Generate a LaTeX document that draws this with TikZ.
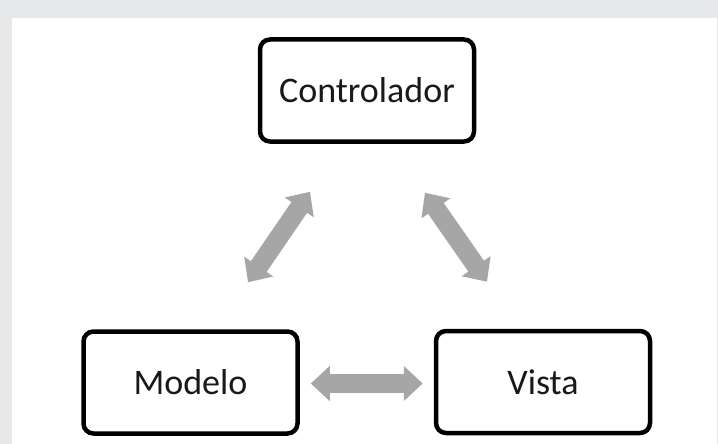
\documentclass[tikz,border=0pt]{standalone}
\usepackage{fontspec}
\setmainfont{Carlito}
\usetikzlibrary{arrows.meta}
\definecolor{framegray}{RGB}{231,232,233}
\definecolor{arrowgray}{RGB}{166,166,166}
\begin{document}
\begin{tikzpicture}[x = 1pt, y = -1pt,
	box/.style = {draw, line width = 4.5pt, rounded corners = 10pt, minimum width = 214pt, minimum height = 102pt, font = \fontsize{36}{40}\selectfont, text = black!90, inner sep = 0pt},
	biarrow/.style = {arrowgray, line width = 19pt, {Triangle[width = 34pt, length = 19pt]}-{Triangle[width = 34pt, length = 19pt]}}]
	%	frame
	\fill[framegray] (0, 0) rectangle (718, 444);
	\fill[white] (12, 18) rectangle (717, 444);
	\useasboundingbox (0, 0) rectangle (718, 444);
	
	%	boxes
	\node[box] (ctrl) at (367, 90.5) {Controlador};
	\node[box] (mod) at (190.5, 382.5) {Modelo};
	\node[box] (vis) at (543, 382) {Vista};
	
	%	arrows
	\draw[biarrow] ([xshift = 57.5pt, yshift = 47pt]mod.north) -- ([xshift = -57pt, yshift = -48pt]ctrl.south);
	\draw[biarrow] ([xshift = -56pt, yshift = 47pt]vis.north) -- ([xshift = 58pt, yshift = -49pt]ctrl.south);
	\draw[biarrow] ([xshift = 11pt, yshift = -1pt]mod.east) -- ([xshift = -11pt, yshift = -1.5pt]vis.west);
\end{tikzpicture}
\end{document}
